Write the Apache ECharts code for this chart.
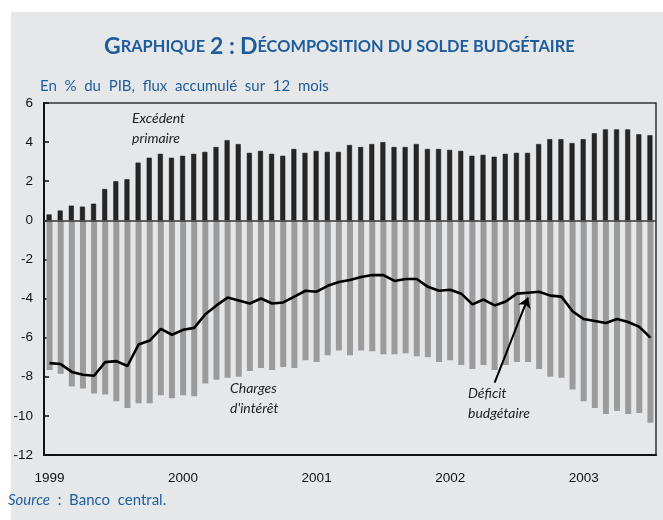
<!DOCTYPE html>
<html>
<head>
<meta charset="utf-8">
<script src="https://cdn.jsdelivr.net/npm/echarts@6/dist/echarts.min.js"></script>
<style>
html,body{margin:0;padding:0;background:#fff;}
#bg{position:absolute;left:11px;top:12px;width:652px;height:508px;background:#e6e7e9;}
#chart{position:absolute;left:0;top:0;width:663px;height:520px;}
</style>
</head>
<body>
<div id="bg"></div>
<div id="chart"></div>
<script>
// solde budgétaire, % du PIB, flux 12 mois, janv. 1999 - juil. 2003
var years = ['1999','2000','2001','2002','2003'];
var primaire = [0.3,0.5,0.75,0.7,0.85,1.6,2.0,2.1,2.95,3.2,
	3.4,3.2,3.3,3.4,3.5,3.75,4.1,3.9,3.45,3.55,
	3.4,3.3,3.65,3.45,3.55,3.5,3.5,3.85,3.75,3.9,
	4.0,3.75,3.75,3.9,3.65,3.65,3.6,3.55,3.3,3.35,
	3.25,3.4,3.45,3.45,3.9,4.15,4.15,3.95,4.15,4.45,
	4.65,4.65,4.65,4.4,4.35];
var interets = [-7.65,-7.85,-8.5,-8.6,-8.85,-8.9,-9.25,-9.6,-9.35,-9.35,
	-8.95,-9.1,-8.95,-9.0,-8.35,-8.15,-8.05,-8.0,-7.7,-7.55,
	-7.65,-7.5,-7.55,-7.15,-7.25,-6.9,-6.65,-6.9,-6.65,-6.7,
	-6.85,-6.85,-6.8,-6.95,-7.0,-7.25,-7.15,-7.4,-7.6,-7.4,
	-7.65,-7.4,-7.25,-7.25,-7.6,-8.0,-8.05,-8.65,-9.25,-9.6,
	-9.9,-9.75,-9.9,-9.85,-10.35];
var deficit = [-7.3,-7.35,-7.75,-7.9,-7.95,-7.25,-7.2,-7.45,-6.35,-6.15,
	-5.55,-5.85,-5.6,-5.5,-4.8,-4.35,-3.95,-4.1,-4.25,-4.0,
	-4.25,-4.2,-3.9,-3.6,-3.65,-3.35,-3.15,-3.05,-2.9,-2.8,
	-2.8,-3.1,-3.0,-3.0,-3.4,-3.6,-3.55,-3.75,-4.3,-4.05,
	-4.35,-4.15,-3.75,-3.7,-3.65,-3.85,-3.9,-4.65,-5.05,-5.15,
	-5.25,-5.05,-5.2,-5.45,-6.0];

var months = [];
for (var i = 0; i < primaire.length; i++) {
	months.push(years[Math.floor(i / 12)] + '-' + (i % 12 + 1));
}

var blue = '#1d5d9c';
var myChart = echarts.init(document.getElementById('chart'));
var option = {
	animation: false,
	backgroundColor: 'transparent',
	title: [{
		text: '{b|G}{s|RAPHIQUE} {b|2 :} {b|D}{s|ÉCOMPOSITION DU SOLDE BUDGÉTAIRE}',
		left: 104,
		top: 35,
		padding: 0,
		textStyle: {
			rich: {
				b: {fontFamily: 'Lato', fontWeight: 'bold', fontSize: 23, color: blue},
				s: {fontFamily: 'Lato', fontWeight: 'bold', fontSize: 16.4, color: blue}
			}
		}
	}, {
		text: 'En  %  du  PIB,  flux  accumulé  sur  12  mois',
		left: 40,
		top: 79,
		padding: 0,
		textStyle: {fontFamily: 'Lato', fontWeight: 'normal', fontSize: 15, color: blue}
	}, {
		text: '{i|Source}  :  Banco  central.',
		left: 8,
		top: 493,
		padding: 0,
		textStyle: {
			fontFamily: 'Lato', fontWeight: 'normal', fontSize: 15, color: blue,
			rich: {i: {fontFamily: 'Lato', fontStyle: 'italic', fontSize: 15, color: blue}}
		}
	}],
	grid: {
		left: 44,
		right: 7,
		top: 103,
		bottom: 65,
		show: true,
		borderColor: '#333',
		borderWidth: 1.5,
		backgroundColor: 'transparent'
	},
	xAxis: {
		type: 'category',
		data: months,
		boundaryGap: true,
		axisLine: {onZero: false, lineStyle: {color: '#111', width: 2}},
		axisTick: {
			inside: true,
			length: 4,
			lineStyle: {color: '#111', width: 1.5},
			interval: function (index) { return index % 6 === 0; }
		},
		axisLabel: {
			interval: function (index) { return index % 12 === 0; },
			formatter: function (v) { return v.split('-')[0]; },
			color: '#111',
			fontFamily: 'Liberation Sans',
			fontSize: 13.5,
			margin: 16
		},
		splitLine: {show: false}
	},
	yAxis: {
		type: 'value',
		min: -12,
		max: 6,
		interval: 2,
		axisLine: {show: true, lineStyle: {color: '#111', width: 2}},
		axisTick: {show: true, inside: true, length: 5, lineStyle: {color: '#111', width: 1.5}},
		axisLabel: {color: '#111', fontFamily: 'Liberation Sans', fontSize: 13.5, margin: 11},
		splitLine: {show: false}
	},
	series: [{
		name: 'Excédent primaire',
		type: 'bar',
		data: primaire,
		barWidth: 5,
		barGap: '-100%',
		itemStyle: {color: '#262626', borderColor: '#111', borderWidth: 0.5},
		markLine: {
			silent: true,
			symbol: 'none',
			label: {show: false},
			lineStyle: {color: '#333', width: 1.5, type: 'solid'},
			data: [{yAxis: 0}]
		}
	}, {
		name: "Charges d'intérêt",
		type: 'bar',
		data: interets,
		barWidth: 6,
		barGap: '-100%',
		itemStyle: {color: '#9b9b9b'}
	}, {
		name: 'Déficit budgétaire',
		type: 'line',
		data: deficit,
		showSymbol: false,
		symbol: 'none',
		z: 5,
		lineStyle: {color: '#000', width: 2.6},
		markLine: {
			silent: true,
			symbol: ['none', 'arrow'],
			symbolSize: 10,
			label: {show: false},
			lineStyle: {color: '#000', width: 2, type: 'solid'},
			data: [[{coord: [40, -8.3]}, {coord: [43, -3.95]}]]
		}
	}],
	graphic: [{
		type: 'text',
		left: 132, top: 108,
		style: {text: 'Excédent\nprimaire', fontFamily: 'Lato', fontStyle: 'italic', fontSize: 14, lineHeight: 20, fill: '#222', align: 'center'}
	}, {
		type: 'text',
		left: 230, top: 378,
		style: {text: "Charges\nd'intérêt", fontFamily: 'Lato', fontStyle: 'italic', fontSize: 14, lineHeight: 20, fill: '#222', align: 'center'}
	}, {
		type: 'text',
		left: 468, top: 383,
		style: {text: 'Déficit\nbudgétaire', fontFamily: 'Lato', fontStyle: 'italic', fontSize: 14, lineHeight: 20, fill: '#222', align: 'center'}
	}]
};
myChart.setOption(option);
</script>
</body>
</html>
